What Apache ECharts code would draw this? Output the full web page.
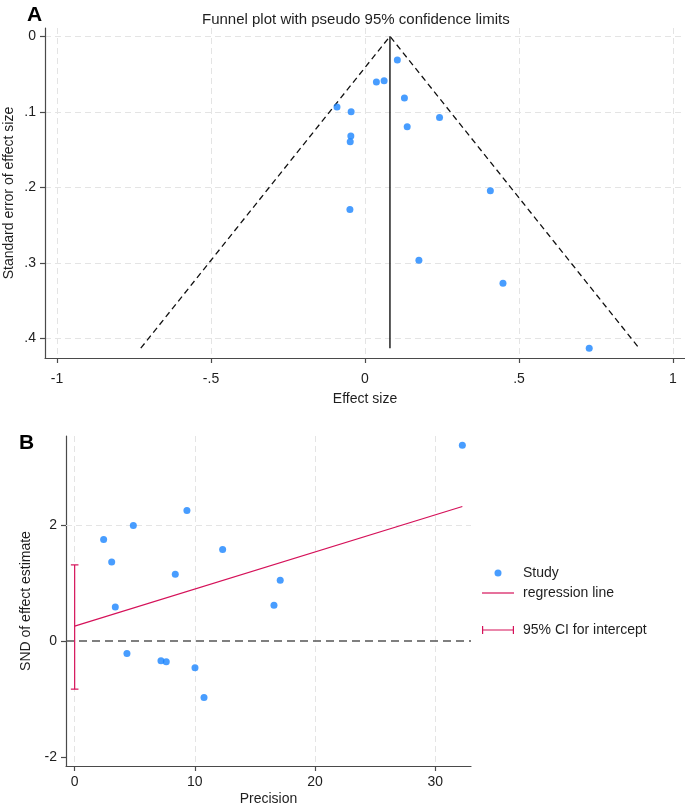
<!DOCTYPE html>
<html><head><meta charset="utf-8">
<script src="https://cdn.jsdelivr.net/npm/echarts@6/dist/echarts.min.js"></script>
<style>html,body{margin:0;padding:0;background:#fff}#c{width:685px;height:806px}</style>
</head><body><div id="c"></div>
<script>
// ---------- Panel A: funnel plot ----------
const effectSize    = [0.105, 0.037, 0.062, 0.128, -0.091, -0.045, 0.242, 0.137, -0.046, -0.048, 0.407, -0.049, 0.175, 0.448, 0.728];
const standardError = [0.0315, 0.0606, 0.0589, 0.0818, 0.0937, 0.100, 0.1074, 0.1197, 0.132, 0.1396, 0.2044, 0.2295, 0.2966, 0.327, 0.413];
const pooledEffect = 0.081;
const funnelMaxSE = 0.413;
const funnelLowerAtMax = -0.728;
const funnelUpperAtMax = 0.89;
const effectTicks = [-1, -0.5, 0, 0.5, 1];
const effectTickLabels = ['-1', '-.5', '0', '.5', '1'];
const seTicks = [0, 0.1, 0.2, 0.3, 0.4];
const seTickLabels = ['0', '.1', '.2', '.3', '.4'];

// ---------- Panel B: Galbraith / Egger plot ----------
const precision = [2.41, 4.88, 9.34, 3.08, 12.31, 8.37, 3.38, 16.58, 4.35, 7.18, 7.62, 10.01, 10.76, 32.25, 17.1];
const sndEstimate = [1.76, 2.00, 2.26, 1.37, 1.585, 1.158, 0.593, 0.622, -0.213, -0.34, -0.358, -0.46, -0.974, 3.39, 1.054];
const regPrecision = [0, 32.25];
const regSND = [0.26, 2.33];
const ciInterceptX = 0;
const ciIntercept = [-0.83, 1.32];
const precisionTicks = [0, 10, 20, 30];
const sndTicks = [-2, 0, 2];
const sndGridValues = [2];

const FONT = 'Liberation Sans, Arial, sans-serif';
const BLUE = 'rgb(26,133,255)';
const RED = 'rgb(213,17,89)';
const AXIS = '#4a4a4a';
const GRID = '#e4e4e4';
const TXT = '#1e1e1e';

function fmtFrom(ticks, labels) {
  return v => { const i = ticks.findIndex(t => Math.abs(t - v) < 1e-9); return i >= 0 ? labels[i] : ''; };
}

const chart = echarts.init(document.getElementById('c'), null, {renderer: 'canvas'});

const baseAxis = {
  type: 'value',
  axisLine: {show: true, onZero: false, lineStyle: {color: AXIS, width: 1.2}},
  axisTick: {show: true, length: 5, lineStyle: {color: AXIS, width: 1.2}},
  axisLabel: {color: TXT, fontSize: 14, fontFamily: FONT},
  nameTextStyle: {color: TXT, fontSize: 14, fontFamily: FONT},
  nameLocation: 'middle',
  nameMoveOverlap: false
};

const option = {
  animation: false,
  backgroundColor: '#fff',
  textStyle: {fontFamily: FONT},
  title: [
    {text: 'Funnel plot with pseudo 95% confidence limits', left: 197, top: 7,
     textStyle: {fontSize: 15, fontWeight: 'normal', color: TXT, fontFamily: FONT}},
    {text: 'A', left: 22, top: 0, textStyle: {fontSize: 21, fontWeight: 'bold', color: '#000', fontFamily: FONT}},
    {text: 'B', left: 14, top: 428, textStyle: {fontSize: 21, fontWeight: 'bold', color: '#000', fontFamily: FONT}}
  ],
  grid: [
    {left: 45, right: 0, top: 28, height: 330, containLabel: false, outerBoundsMode: 'none'},
    {left: 66, width: 405, top: 436, height: 330, containLabel: false, outerBoundsMode: 'none'}
  ],
  xAxis: [
    Object.assign({}, baseAxis, {
      gridIndex: 0, min: -1.039, max: 1.039, name: 'Effect size', nameGap: 34,
      axisTick: Object.assign({}, baseAxis.axisTick, {customValues: effectTicks}),
      axisLabel: Object.assign({}, baseAxis.axisLabel, {customValues: effectTicks, margin: 14, formatter: fmtFrom(effectTicks, effectTickLabels)}),
      splitLine: {show: true, lineStyle: {color: GRID, type: [6, 4], width: 1}}
    }),
    Object.assign({}, baseAxis, {
      gridIndex: 1, min: -0.72, max: 32.97, name: 'Precision', nameGap: 26,
      axisTick: Object.assign({}, baseAxis.axisTick, {customValues: precisionTicks}),
      axisLabel: Object.assign({}, baseAxis.axisLabel, {customValues: precisionTicks, margin: 9}),
      splitLine: {show: true, lineStyle: {color: GRID, type: [6, 4], width: 1}}
    })
  ],
  yAxis: [
    Object.assign({}, baseAxis, {
      gridIndex: 0, inverse: true, min: -0.011, max: 0.426, name: 'Standard error of effect size', nameGap: 29,
      axisTick: Object.assign({}, baseAxis.axisTick, {customValues: seTicks}),
      axisLabel: Object.assign({}, baseAxis.axisLabel, {customValues: seTicks, margin: 9, formatter: fmtFrom(seTicks, seTickLabels)}),
      splitLine: {show: true, lineStyle: {color: GRID, type: [6, 4], width: 1}}
    }),
    Object.assign({}, baseAxis, {
      gridIndex: 1, min: -2.16, max: 3.55, name: 'SND of effect estimate', nameGap: 33,
      axisTick: Object.assign({}, baseAxis.axisTick, {customValues: sndTicks}),
      axisLabel: Object.assign({}, baseAxis.axisLabel, {customValues: sndTicks, margin: 9}),
      splitLine: {show: false}
    })
  ],
  legend: [
    {data: [{name: 'Study', icon: 'circle'}, {name: 'regression line', icon: 'path://M0,0h32v1.2h-32z'}],
     orient: 'vertical', left: 482, top: 566, padding: 0,
     itemWidth: 32, itemHeight: 7, itemGap: 6, selectedMode: false,
     textStyle: {fontSize: 14, color: TXT, fontFamily: FONT, padding: [0, 0, 0, 4]}},
    {data: [{name: '95% CI for intercept', icon: 'path://M0,0h1.2v8h-1.2zM0,3.4h32v1.2h-32zM30.8,0h1.2v8h-1.2z'}],
     orient: 'vertical', left: 482, top: 623, padding: 0, itemWidth: 32, itemHeight: 8, selectedMode: false,
     textStyle: {fontSize: 14, color: TXT, fontFamily: FONT, padding: [0, 0, 0, 4]}}
  ],
  series: [
    // Panel A
    {type: 'line', xAxisIndex: 0, yAxisIndex: 0, silent: true, symbol: 'none',
     data: [[funnelLowerAtMax, funnelMaxSE], [pooledEffect, 0], [funnelUpperAtMax, funnelMaxSE]],
     lineStyle: {color: '#111', width: 1.3, type: [6, 4]}, z: 3},
    {type: 'line', xAxisIndex: 0, yAxisIndex: 0, silent: true, symbol: 'none',
     data: [[pooledEffect, 0], [pooledEffect, funnelMaxSE]],
     lineStyle: {color: '#222', width: 1.5}, z: 3},
    {type: 'scatter', xAxisIndex: 0, yAxisIndex: 0, symbol: 'circle', symbolSize: 7,
     data: effectSize.map((e, i) => [e, standardError[i]]),
     itemStyle: {color: BLUE}, z: 5},
    // Panel B: gridline at 2 and zero reference line
    {type: 'line', xAxisIndex: 1, yAxisIndex: 1, silent: true, data: [], z: 1,
     markLine: {silent: true, symbol: 'none', label: {show: false}, z: 1,
       data: sndGridValues.map(v => ({yAxis: v, lineStyle: {color: GRID, width: 1, type: [6, 4]}}))}},
    {name: 'Study', type: 'scatter', xAxisIndex: 1, yAxisIndex: 1, symbol: 'circle', symbolSize: 7,
     data: precision.map((p, i) => [p, sndEstimate[i]]),
     itemStyle: {color: BLUE}, z: 5,
     markLine: {silent: true, symbol: 'none', label: {show: false},
       data: [{yAxis: 0, lineStyle: {color: '#555', width: 1.5, type: [8, 5]}}]}},
    {name: 'regression line', type: 'line', xAxisIndex: 1, yAxisIndex: 1, symbol: 'none', silent: true,
     data: regPrecision.map((p, i) => [p, regSND[i]]),
     lineStyle: {color: RED, width: 1.2}, itemStyle: {color: RED}, z: 4},
    {name: '95% CI for intercept', type: 'custom', xAxisIndex: 1, yAxisIndex: 1, silent: true,
     itemStyle: {color: RED},
     encode: {x: 0, y: [1, 2]},
     data: [[ciInterceptX, ciIntercept[0], ciIntercept[1]]],
     renderItem: (params, api) => {
       const lo = api.coord([api.value(0), api.value(1)]);
       const hi = api.coord([api.value(0), api.value(2)]);
       const cap = 3.8, st = {stroke: RED, lineWidth: 1.2};
       return {type: 'group', children: [
         {type: 'line', shape: {x1: lo[0], y1: lo[1], x2: hi[0], y2: hi[1]}, style: st},
         {type: 'line', shape: {x1: lo[0] - cap, y1: lo[1], x2: lo[0] + cap, y2: lo[1]}, style: st},
         {type: 'line', shape: {x1: hi[0] - cap, y1: hi[1], x2: hi[0] + cap, y2: hi[1]}, style: st}
       ]};
     }, z: 4}
  ]
};
chart.setOption(option);
</script></body></html>
